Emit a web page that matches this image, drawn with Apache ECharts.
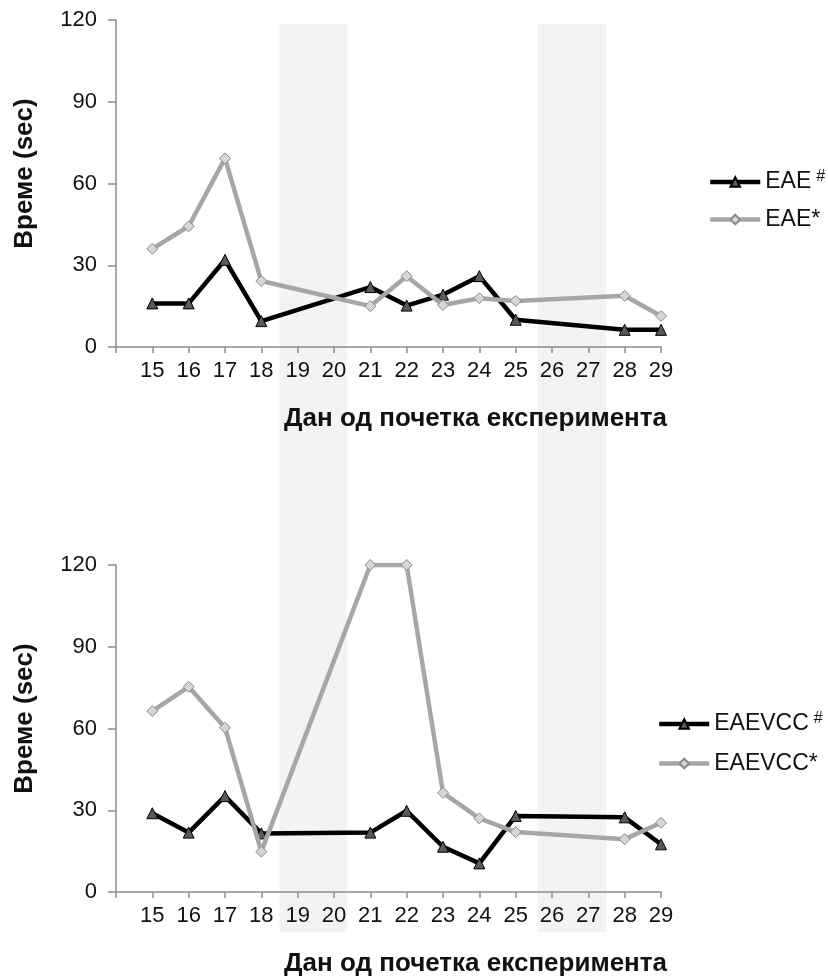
<!DOCTYPE html>
<html>
<head>
<meta charset="utf-8">
<script src="https://cdn.jsdelivr.net/npm/echarts@6/dist/echarts.min.js"></script>
<style>
  html, body { margin: 0; padding: 0; background: #fff; }
  #chart { width: 828px; height: 979px; }
</style>
</head>
<body>
<div id="chart"></div>
<script>
// Days on which the animals were scored (no scoring on 19, 20, 26, 27)
const days = [15, 16, 17, 18, 21, 22, 23, 24, 25, 28, 29];
// Day ticks printed under each axis
const dayTicks = [15, 16, 17, 18, 19, 20, 21, 22, 23, 24, 25, 26, 27, 28, 29];
// Time values (sec), upper panel
const eaeHash = [16, 16, 32, 9.5, 22, 15.2, 19.2, 26, 10, 6.3, 6.3];
const eaeStar = [36, 44.3, 69.2, 24.2, 15, 26, 15.4, 17.9, 16.9, 18.8, 11.4];
// Time values (sec), lower panel
const vccHash = [28.9, 21.8, 35.2, 21.5, 21.8, 29.8, 16.6, 10.5, 27.9, 27.4, 17.5];
const vccStar = [66.4, 75.3, 60.3, 14.8, 120, 120, 36.4, 27, 22, 19.4, 25.4];
// Day ranges without testing (shaded)
const restBands = [[18.5, 20.35], [25.6, 27.5]];
const timeTicks = [0, 30, 60, 90, 120];

const FONT = 'Arial, "Liberation Sans", sans-serif';
const pair = (xs, ys) => xs.map((x, i) => [x, ys[i]]);

const chart = echarts.init(document.getElementById('chart'), null, { renderer: 'canvas' });

function xAxisFor(gridIndex) {
  return {
    type: 'value', gridIndex, min: 14, max: 29, interval: 1, z: 1,
    name: 'Дан од почетка експеримента',
    nameLocation: 'end', nameGap: 6,
    nameTextStyle: {
      fontFamily: FONT, fontSize: 26, fontWeight: 'bold', color: '#111',
      align: 'right', verticalAlign: 'top', padding: [59, 0, 0, 0]
    },
    axisLine: { show: true, lineStyle: { color: '#8c8c8c', width: 1.5 } },
    axisTick: { show: true, length: 6, lineStyle: { color: '#8c8c8c', width: 1.5 } },
    axisLabel: {
      fontFamily: FONT, fontSize: 22, color: '#111', margin: 13,
      formatter: v => (dayTicks.indexOf(v) >= 0 ? String(v) : '')
    },
    splitLine: { show: false }
  };
}
function yAxisFor(gridIndex) {
  return {
    type: 'value', gridIndex, min: 0, max: 120, interval: 30, z: 1,
    name: 'Време (sec)', nameLocation: 'middle', nameGap: 78,
    nameTextStyle: {
      fontFamily: FONT, fontSize: 26, fontWeight: 'bold', color: '#111',
      padding: [0, 0, 0, 20]
    },
    axisLine: { show: true, lineStyle: { color: '#8c8c8c', width: 1.5 } },
    axisTick: { show: true, length: 8, lineStyle: { color: '#8c8c8c', width: 1.5 } },
    axisLabel: {
      fontFamily: FONT, fontSize: 22, color: '#111', margin: 19,
      formatter: v => (timeTicks.indexOf(v) >= 0 ? String(v) : '')
    },
    splitLine: { show: false }
  };
}

function blackSeries(name, idx, values) {
  return {
    name, type: 'line', xAxisIndex: idx, yAxisIndex: idx, z: 3,
    data: pair(days, values),
    symbol: 'triangle', symbolSize: 11,
    lineStyle: { color: '#000', width: 4.5 },
    itemStyle: { color: '#5a5a5a', borderColor: '#000', borderWidth: 1 },
    emphasis: { disabled: true }, animation: false
  };
}
function graySeries(name, idx, values) {
  return {
    name, type: 'line', xAxisIndex: idx, yAxisIndex: idx, z: 4,
    data: pair(days, values),
    symbol: 'diamond', symbolSize: 11,
    lineStyle: { color: '#a6a6a6', width: 4.5 },
    itemStyle: { color: '#d6d6d6', borderColor: '#8a8a8a', borderWidth: 1 },
    emphasis: { disabled: true }, animation: false
  };
}

const legendRich = {
  a: { fontFamily: FONT, fontSize: 23, color: '#111', lineHeight: 26 },
  sup: { fontFamily: FONT, fontSize: 16, color: '#111', lineHeight: 26, verticalAlign: 'top', padding: [0, 0, 9, 5] }
};
function legendFor(names, left, top, gap) {
  return {
    data: names, orient: 'vertical', left, top, padding: 0,
    itemWidth: 50, itemHeight: 12, itemGap: gap,
    lineStyle: { width: 4.5 },
    textStyle: { rich: legendRich },
    formatter: n => n.endsWith('#') ? '{a|' + n.slice(0, -1) + '}{sup|#}' : '{a|' + n + '}',
    selectedMode: false
  };
}

chart.setOption({
  backgroundColor: '#fff',
  animation: false,
  grid: [
    { left: 116, top: 20, width: 545, height: 327 },
    { left: 116, top: 565, width: 545, height: 327 },
    { left: 116, top: 24, width: 545, height: 908 }
  ],
  xAxis: [
    xAxisFor(0), xAxisFor(1),
    { type: 'value', gridIndex: 2, min: 14, max: 29, show: false }
  ],
  yAxis: [
    yAxisFor(0), yAxisFor(1),
    { type: 'value', gridIndex: 2, min: 0, max: 1, show: false }
  ],
  legend: [
    legendFor(['EAE#', 'EAE*'], 708, 169, 14),
    legendFor(['EAEVCC#', 'EAEVCC*'], 657, 711, 16)
  ],
  series: [
    {
      type: 'line', xAxisIndex: 2, yAxisIndex: 2, z: 0, zlevel: 0, data: [], silent: true,
      markArea: {
        silent: true, z: 0,
        itemStyle: { color: '#f3f3f3' },
        data: restBands.map(b => [{ xAxis: b[0] }, { xAxis: b[1] }])
      }
    },
    blackSeries('EAE#', 0, eaeHash),
    graySeries('EAE*', 0, eaeStar),
    blackSeries('EAEVCC#', 1, vccHash),
    graySeries('EAEVCC*', 1, vccStar)
  ]
});
</script>
</body>
</html>
